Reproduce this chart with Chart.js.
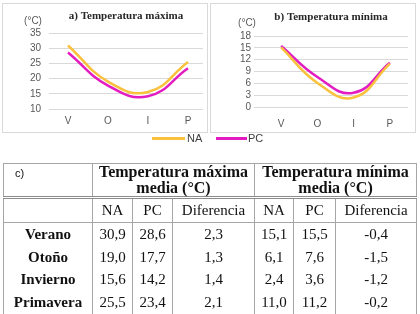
<!DOCTYPE html>
<html lang="es">
<head>
<meta charset="UTF-8">
<title>Temperatura máxima y mínima</title>
<script src="https://cdn.jsdelivr.net/npm/chart.js"></script>
<style>
    body { margin: 0; background: #fff; width: 420px; height: 314px; position: relative; overflow: hidden; font-family: "Liberation Sans", Arial, sans-serif; }
    .box { position: absolute; top: 3px; width: 206px; height: 130px; border: 1px solid #d9d9d9; box-sizing: border-box; }
    .box canvas { position: absolute; left: 0; top: 0; }
    .unit { position: absolute; font-size: 10px; color: #595959; transform: translate(-50%, -50%); white-space: nowrap; }
    .legend { position: absolute; top: 131px; left: 0; width: 420px; height: 14px; font-size: 11px; color: #404040; }
    .legend span { position: absolute; top: 0; line-height: 14px; }
    .legend i { position: absolute; top: 6px; height: 3px; }
    table { position: absolute; left: 3px; top: 163px; width: 413px; border-collapse: collapse; font-family: "Liberation Serif", "Times New Roman", serif; font-size: 15px; color: #111; table-layout: fixed; border: 1px solid #a6a6a6; }
    td, th { border-left: 1px solid #a6a6a6; border-right: 1px solid #a6a6a6; padding: 0; text-align: center; line-height: 17px; }
    .hdr th { font-weight: bold; font-size: 16px; line-height: 16px; height: 31px; border-bottom: 3px double #8c8c8c; vertical-align: middle; }
    .hdr th.c { font-family: "Liberation Sans", Arial, sans-serif; font-weight: normal; font-size: 11px; text-align: left; vertical-align: top; padding: 1px 0 0 11px; height: 30px; }
    .sub td { height: 23px; border-bottom: 1px solid #a6a6a6; }
    .row td { height: 22.7px; }
    .row td.name { font-weight: bold; }
</style>
</head>
<body>
<div class="box" style="left:2px"><canvas id="chartMax" width="204" height="128"></canvas></div>
<div class="box" style="left:210px"><canvas id="chartMin" width="204" height="128"></canvas></div>
<div class="unit" style="left:33px; top:20px">(°C)</div>
<div class="unit" style="left:247px; top:22px">(°C)</div>
<div class="legend">
    <i style="left:152px; width:33px; background:#f9c13c"></i><span style="left:187px">NA</span>
    <i style="left:216px; width:31px; background:#e21cc0"></i><span style="left:248px">PC</span>
</div>
<table id="tabla"></table>

<script>
// data
const xLabels = ['V', 'O', 'I', 'P'];
const seasons = ['Verano', 'Otoño', 'Invierno', 'Primavera'];
const maxNA = [30.9, 19.0, 15.6, 25.5];
const maxPC = [28.6, 17.7, 14.2, 23.4];
const maxDif = [2.3, 1.3, 1.4, 2.1];
const minNA = [15.1, 6.1, 2.4, 11.0];
const minPC = [15.5, 7.6, 3.6, 11.2];
const minDif = [-0.4, -1.5, -1.2, -0.2];

const colorNA = '#f9c13c';
const colorPC = '#e21cc0';

function points(values) {
    return values.map((v, i) => ({ x: i, y: v }));
}

function makeChart(id, title, na, pc, yMin, yMax, step, lay) {
    new Chart(document.getElementById(id), {
        type: 'line',
        data: {
            datasets: [
                { label: 'NA', data: points(na), borderColor: colorNA, borderWidth: 2.5, pointRadius: 0, tension: 0.45 },
                { label: 'PC', data: points(pc), borderColor: colorPC, borderWidth: 2.5, pointRadius: 0, tension: 0.45 }
            ]
        },
        options: {
            responsive: false,
            animation: false,
            layout: { padding: { left: 0, right: lay.right, top: 0, bottom: lay.bottom } },
            plugins: {
                legend: { display: false },
                tooltip: { enabled: false },
                title: {
                    display: true, text: title, fullSize: false,
                    color: '#262626',
                    font: { family: '"Liberation Serif", "Times New Roman", serif', size: 11, weight: 'bold' },
                    padding: { top: lay.titleTop, bottom: lay.titleBottom }
                }
            },
            scales: {
                x: {
                    type: 'linear', min: lay.xMin, max: lay.xMax,
                    grid: { display: false, drawTicks: false }, border: { display: false },
                    afterBuildTicks: s => { s.ticks = xLabels.map((_, i) => ({ value: i })); },
                    afterFit: s => { s.height = 12 + lay.xPad; },
                    ticks: {
                        padding: lay.xPad, color: '#595959', font: { size: 10 },
                        callback: v => xLabels[v] ?? ''
                    }
                },
                y: {
                    min: yMin, max: yMax,
                    afterFit: s => { s.width = lay.yWidth; },
                    grid: { color: '#d9d9d9', drawTicks: false }, border: { display: false },
                    ticks: { stepSize: step, autoSkip: false, padding: lay.yPad, color: '#595959', font: { size: 10 } }
                }
            }
        }
    });
}

makeChart('chartMax', 'a) Temperatura máxima', maxNA, maxPC, 10, 35, 5,
    { right: 4, bottom: 5, titleTop: 5.6, titleBottom: 10.2, xPad: 6, yWidth: 46, yPad: 8, xMin: -0.475, xMax: 3.375 });
makeChart('chartMin', 'b) Temperatura mínima', minNA, minPC, 0, 18, 3,
    { right: 7, bottom: 2, titleTop: 6.4, titleBottom: 12.4, xPad: 11, yWidth: 43, yPad: 3, xMin: -0.75, xMax: 3.5 });

// table
const fmt = v => v.toFixed(1).replace('.', ',');
let html = '<colgroup><col style="width:89px"><col style="width:40px"><col style="width:40px"><col style="width:82px">' +
    '<col style="width:39px"><col style="width:42px"><col style="width:81px"></colgroup>';
html += '<tr class="hdr"><th class="c">c)</th><th colspan="3">Temperatura máxima<br>media (°C)</th>' +
    '<th colspan="3">Temperatura mínima<br>media (°C)</th></tr>';
html += '<tr class="sub"><td></td><td>NA</td><td>PC</td><td>Diferencia</td><td>NA</td><td>PC</td><td>Diferencia</td></tr>';
seasons.forEach((s, i) => {
    html += '<tr class="row"><td class="name">' + s + '</td><td>' + fmt(maxNA[i]) + '</td><td>' + fmt(maxPC[i]) +
        '</td><td>' + fmt(maxDif[i]) + '</td><td>' + fmt(minNA[i]) + '</td><td>' + fmt(minPC[i]) +
        '</td><td>' + fmt(minDif[i]) + '</td></tr>';
});
document.getElementById('tabla').innerHTML = html;
</script>
</body>
</html>
